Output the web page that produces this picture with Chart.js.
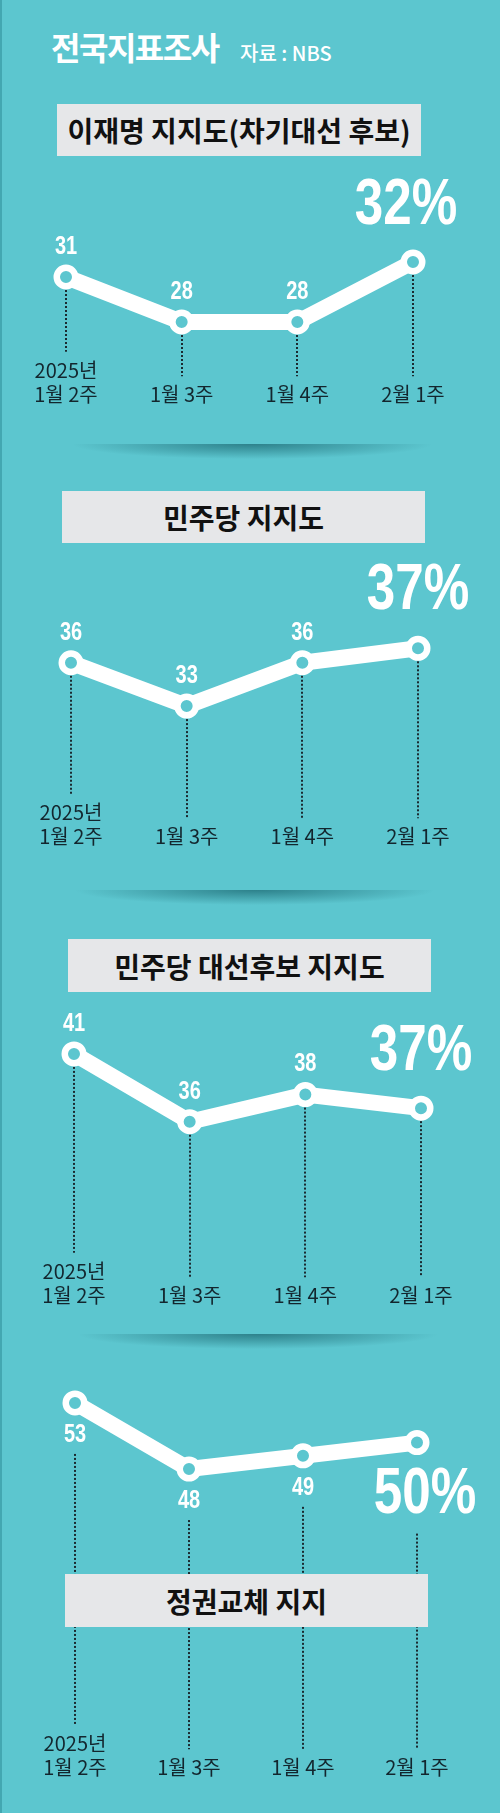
<!DOCTYPE html>
<html>
<head>
<meta charset="utf-8">
<script src="https://cdn.jsdelivr.net/npm/chart.js@4.4.1/dist/chart.umd.min.js"></script>
<style>
html,body{margin:0;padding:0;}
body{width:500px;height:1813px;background:#5cc6cf;position:relative;overflow:hidden;font-family:"Noto Sans CJK KR","Noto Sans",sans-serif;}
.abs{position:absolute;}
.edge{left:0;top:0;width:2px;height:1813px;background:rgba(20,110,120,0.35);z-index:6;}
.title{left:51px;top:26px;font-size:32px;font-weight:700;color:#fff;letter-spacing:-1.5px;line-height:40px;white-space:nowrap;}
.src{left:240px;top:39px;font-size:20px;font-weight:500;color:#fff;line-height:28px;letter-spacing:0px;white-space:nowrap;}
.box{background:#e6e7e9;z-index:5;display:flex;align-items:center;justify-content:center;font-size:28px;font-weight:700;color:#111;letter-spacing:0px;white-space:nowrap;}
.shadow{z-index:1;height:15px;background:radial-gradient(ellipse 50% 100% at 50% 0%, rgba(25,100,110,0.7), rgba(25,100,110,0) 100%);}
canvas{position:absolute;left:0;z-index:2;}
</style>
</head>
<body>
<div class="abs edge"></div>
<div class="abs title">전국지표조사</div>
<div class="abs src">자료 : NBS</div>
<div class="abs box" id="box0" style="left:57px;top:104px;width:364px;height:52px;"></div>
<div class="abs box" id="box1" style="left:62px;top:491px;width:363px;height:52px;"></div>
<div class="abs box" id="box2" style="left:68px;top:939px;width:363px;height:53px;"></div>
<div class="abs box" id="box3" style="left:65px;top:1574px;width:363px;height:53px;"></div>
<div class="abs shadow" style="left:72px;top:444px;width:360px;"></div>
<div class="abs shadow" style="left:75px;top:890px;width:360px;"></div>
<div class="abs shadow" style="left:78px;top:1334px;width:360px;"></div>
<canvas id="c0"></canvas>
<canvas id="c1"></canvas>
<canvas id="c2"></canvas>
<canvas id="c3"></canvas>
<script>
// ---- data ----
const yearLabel = '2025년';
const weekLabels = ['1월 2주', '1월 3주', '1월 4주', '2월 1주'];
const leeJaeMyungSupport = [31, 28, 28, 32];
const democraticPartySupport = [36, 33, 36, 37];
const democraticCandidateSupport = [41, 36, 38, 37];
const regimeChangeSupport = [53, 48, 49, 50];
const sectionTitles = ['이재명 지지도(차기대선 후보)', '민주당 지지도', '민주당 대선후보 지지도', '정권교체 지지'];

// ---- layout ----
const TEAL = '#5cc6cf';
const SANS = '"Liberation Sans", Arial, sans-serif';
const KR = '"Noto Sans CJK KR", "Noto Sans", sans-serif';
const LH = 24.5;
const NARROW_K = 0.8;
const layouts = [
  {series: leeJaeMyungSupport, canvasTop: 160, canvasBottom: 440, areaTop: 232, areaBottom: 352, left: 66, right: 413, yMin: 26, yMax: 34, labelTop: 357.75, below: false, pctDx: -7, pctDy: -56},
  {series: democraticPartySupport, canvasTop: 555, canvasBottom: 885, areaTop: 619.4, areaBottom: 792.8, left: 71, right: 418, yMin: 27, yMax: 39, labelTop: 799.75, below: false, pctDx: 0, pctDy: -57},
  {series: democraticCandidateSupport, canvasTop: 1000, canvasBottom: 1330, areaTop: 1026.8, areaBottom: 1250.5, left: 74, right: 421, yMin: 26.5, yMax: 43, labelTop: 1258.75, below: false, pctDx: 0, pctDy: -56},
  {series: regimeChangeSupport, canvasTop: 1370, canvasBottom: 1813, areaTop: 1389.7, areaBottom: 1720.4, left: 75, right: 417, yMin: 29, yMax: 54, labelTop: 1730.75, below: true, pctDx: 8, pctDy: 53}
];

sectionTitles.forEach((t, i) => { document.getElementById('box' + i).textContent = t; });

function narrowText(ctx, text, x, y) {
  ctx.save();
  ctx.translate(x, y);
  ctx.scale(NARROW_K, 1);
  ctx.fillText(text, 0, 0);
  ctx.restore();
}

function makePlugin(L) {
  return {
    id: 'annot',
    beforeDatasetsDraw(chart) {
      const ctx = chart.ctx;
      const meta = chart.getDatasetMeta(0);
      const xs = chart.scales.x;
      const last = meta.data.length - 1;
      ctx.save();
      ctx.strokeStyle = '#1b2a30';
      ctx.lineWidth = 2;
      ctx.setLineDash([2, 2]);
      meta.data.forEach((pt, i) => {
        const lineTop = xs.top + xs.options.ticks.padding + (i === 0 ? 0 : LH);
        const y1 = lineTop - 6;
        let y0;
        if (!L.below) y0 = pt.y + 13;
        else y0 = i < last ? pt.y + 51 : pt.y + 91;
        const x = Math.round(pt.x);
        ctx.beginPath();
        ctx.moveTo(x, y0);
        ctx.lineTo(x, y1);
        ctx.stroke();
      });
      ctx.restore();
    },
    afterDatasetsDraw(chart) {
      const ctx = chart.ctx;
      const meta = chart.getDatasetMeta(0);
      const vals = chart.data.datasets[0].data;
      const last = meta.data.length - 1;
      ctx.save();
      ctx.fillStyle = '#ffffff';
      ctx.textAlign = 'center';
      ctx.textBaseline = 'middle';
      ctx.font = 'bold 25px ' + SANS;
      meta.data.forEach((pt, i) => {
        if (i === last) return;
        narrowText(ctx, String(vals[i]), pt.x, pt.y + (L.below ? 32 : -30));
      });
      const lp = meta.data[last];
      ctx.font = 'bold 64px ' + SANS;
      narrowText(ctx, vals[last] + '%', lp.x + L.pctDx, lp.y + L.pctDy);
      ctx.restore();
    }
  };
}

layouts.forEach((L, idx) => {
  const cv = document.getElementById('c' + idx);
  const h = L.canvasBottom - L.canvasTop;
  cv.width = 500; cv.height = h;
  cv.style.width = '500px'; cv.style.height = h + 'px';
  cv.style.top = L.canvasTop + 'px';
  new Chart(cv, {
    type: 'line',
    data: {
      labels: weekLabels,
      datasets: [{
        data: L.series,
        borderColor: '#ffffff',
        borderWidth: 16,
        borderJoinStyle: 'round',
        borderCapStyle: 'round',
        tension: 0,
        pointRadius: 9.25,
        pointBorderWidth: 6.5,
        pointBackgroundColor: TEAL,
        pointBorderColor: '#ffffff',
        clip: false
      }]
    },
    options: {
      responsive: false,
      animation: false,
      events: [],
      devicePixelRatio: 1,
      layout: {padding: {top: L.areaTop - L.canvasTop, left: L.left, right: 500 - L.right, bottom: 0}},
      scales: {
        x: {
          type: 'category',
          offset: false,
          grid: {display: false, drawTicks: false},
          border: {display: false},
          ticks: {
            autoSkip: false, maxRotation: 0, minRotation: 0,
            padding: L.labelTop - L.areaBottom,
            color: '#13262e',
            font: {family: KR, size: 20, lineHeight: LH / 20},
            callback: (v, i) => i === 0 ? [yearLabel, weekLabels[i]] : ['', weekLabels[i]]
          },
          afterFit: (s) => { s.height = L.canvasBottom - L.areaBottom; }
        },
        y: {display: false, min: L.yMin, max: L.yMax}
      },
      plugins: {legend: {display: false}, tooltip: {enabled: false}}
    },
    plugins: [makePlugin(L)]
  });
});
</script>
</body>
</html>
